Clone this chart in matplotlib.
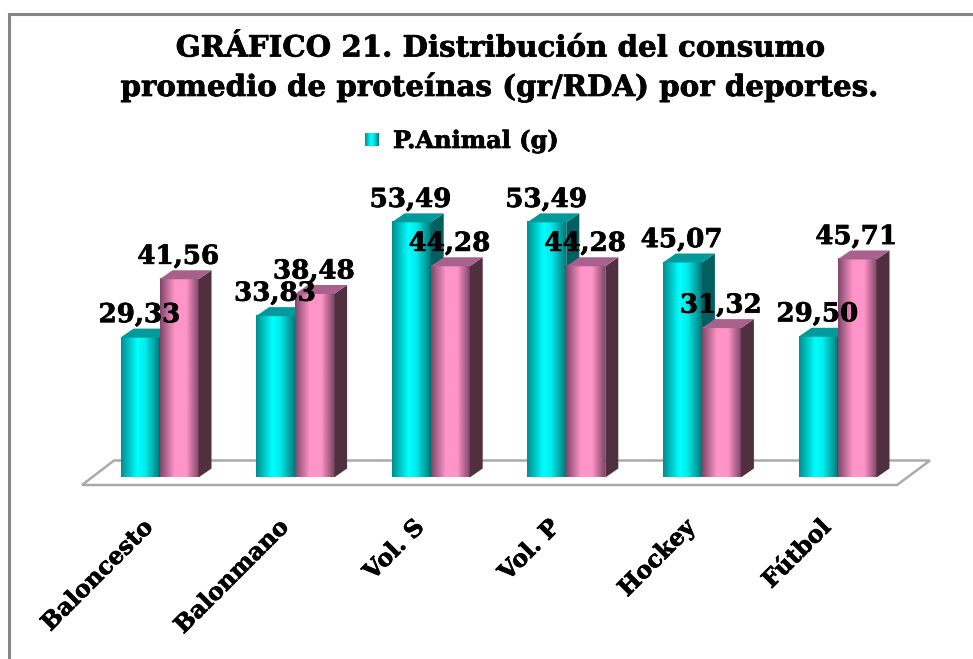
import matplotlib
matplotlib.use('Agg')
import matplotlib.pyplot as plt
import numpy as np
import matplotlib.patheffects as pe
from matplotlib.colors import LinearSegmentedColormap
from matplotlib.lines import Line2D
from matplotlib.patches import Polygon
from matplotlib.transforms import ScaledTranslation

deportes = ['Baloncesto', 'Balonmano', 'Vol. S', 'Vol. P', 'Hockey', 'Fútbol']
animal = [29.33, 33.83, 53.49, 53.49, 45.07, 29.50]
vegetal = [41.56, 38.48, 44.28, 44.28, 31.32, 45.71]
etiquetas_animal = ['29,33', '33,83', '53,49', '53,49', '45,07', '29,50']
etiquetas_vegetal = ['41,56', '38,48', '44,28', '44,28', '31,32', '45,71']

W, H = 973, 659
FONT = 'DejaVu Serif'

# px per category / per unit, measured on the picture
PX_CAT = 135.6
PX_UNIT = 4.77
BASE_Y = 477.5
DX, DY = 13, 9
BAR_W = 39 / PX_CAT

cmap_cyan = LinearSegmentedColormap.from_list('c', [(0, '#008f8f'), (0.42, '#00ffff'), (0.62, '#00ecec'), (1, '#007a7a')])
cmap_pink = LinearSegmentedColormap.from_list('p', [(0, '#80486a'), (0.38, '#ff94c8'), (0.68, '#ff94c8'), (1, '#80486a')])
grad = np.linspace(0, 1, 64).reshape(1, -1)
heavy = [pe.withStroke(linewidth=0.5, foreground='black')]


def fig_pts(pts):
    return [(x / W, 1 - y / H) for x, y in pts]


fig = plt.figure(figsize=(W / 100, H / 100), dpi=100, facecolor='white')

# frame, only top and left are inside the picture
fx, fy = zip(*fig_pts([(9, H), (9, 14), (W, 14)]))
fig.add_artist(Line2D(fx, fy, color='#858585', linewidth=2.2, solid_joinstyle='miter', zorder=-1))
# floor
fig.add_artist(Polygon(fig_pts([(82, 485), (114, 460.5), (930, 460.5), (897, 485)]), closed=True,
                       facecolor='white', edgecolor='#aaaaaa', linewidth=1.8, zorder=-1))

ax = fig.add_axes([0, (H - BASE_Y) / H, 1, BASE_Y / H])
ax.patch.set_alpha(0)
for s in ax.spines.values():
    s.set_visible(False)
ax.set_yticks([])

xlim = (-159.5 / PX_CAT, (W - 159.5) / PX_CAT)
ylim = (0, BASE_Y / PX_UNIT)
dx = DX / PX_CAT
dy = DY / PX_UNIT


def draw_bar(x, v, cmap, side, top, z):
    rect = ax.bar(x, v, BAR_W, align='edge', color='none', zorder=z)[0]
    ax.imshow(grad, cmap=cmap, extent=(rect.get_x(), rect.get_x() + BAR_W, 0, v),
              aspect='auto', zorder=z, interpolation='bilinear')
    xr = x + BAR_W
    ax.add_patch(Polygon([(xr, 0), (xr + dx, dy), (xr + dx, v + dy), (xr, v)],
                         facecolor=side, edgecolor='none', zorder=z))
    ax.add_patch(Polygon([(x, v), (x + dx, v + dy), (xr + dx, v + dy), (xr, v)],
                         facecolor=top, edgecolor='none', zorder=z))


for i in range(len(deportes)):
    draw_bar(i - BAR_W, animal[i], cmap_cyan, '#005f60', '#009a9a', 3)
    draw_bar(i, vegetal[i], cmap_pink, '#50303f', '#a8608c', 4)
    for x, v, t in ((i - BAR_W / 2, animal[i], etiquetas_animal[i]),
                    (i + BAR_W / 2, vegetal[i], etiquetas_vegetal[i])):
        ax.annotate(t, (x, v), xytext=(-0.5, 16.5), textcoords='offset points', ha='center', va='center',
                    fontsize=18.8, fontweight='bold', family=FONT, color='black', zorder=6,
                    path_effects=heavy)

ax.set_xlim(xlim)
ax.set_ylim(ylim)
ax.set_xticks(range(len(deportes)))
ax.tick_params(axis='x', length=0, pad=27)
ax.set_xticklabels(deportes, rotation=45, ha='right', va='top', rotation_mode='anchor',
                   fontsize=17, fontweight='bold', family=FONT, path_effects=heavy)
for lab in ax.get_xticklabels():
    lab.set_transform(lab.get_transform() + ScaledTranslation(-19 / 100, 0, fig.dpi_scale_trans))

# title
fig.text(500 / W, 1 - 48 / H, 'GRÁFICO 21. Distribución del consumo', ha='center', va='center',
         fontsize=21.1, fontweight='bold', family=FONT, path_effects=heavy)
fig.text(499 / W, 1 - 87 / H, 'promedio de proteínas (gr/RDA) por deportes.', ha='center', va='center',
         fontsize=21.1, fontweight='bold', family=FONT, path_effects=heavy)

# legend
leg = fig.add_axes([365 / W, 1 - 146 / H, 14 / W, 13 / H])
leg.imshow(grad, cmap=cmap_cyan, aspect='auto', interpolation='bilinear')
leg.axis('off')
fig.text(393 / W, 1 - 141 / H, 'P.Animal (g)', ha='left', va='center',
         fontsize=17.3, fontweight='bold', family=FONT, path_effects=heavy)

fig.savefig('out.png', dpi=100)
